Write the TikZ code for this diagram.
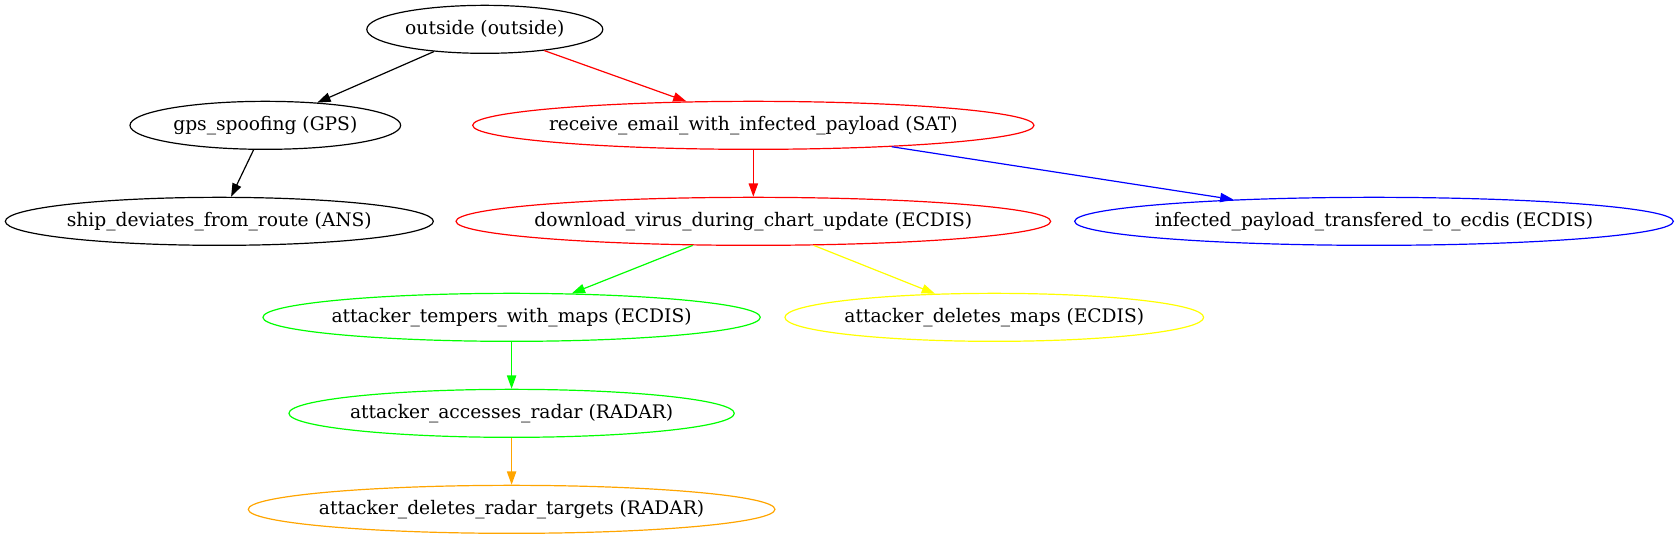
\documentclass[tikz,border=0pt]{standalone}
\usepackage{fontspec}
\setmainfont{DejaVu Serif}
\usepackage{xcolor}
\usetikzlibrary{arrows.meta, shapes.geometric}

\definecolor{gvgreen}{RGB}{0,255,0}
\definecolor{gvyellow}{RGB}{255,255,0}
\definecolor{gvorange}{RGB}{255,165,0}

\begin{document}
\begin{tikzpicture}[
        x=1pt, y=-1pt,
        state/.style = {ellipse, draw, line width=0.9pt, inner xsep=-20pt, inner ysep=0pt, minimum height=36pt, font=\fontsize{14}{17}\selectfont},
        edge/.style = {-{Triangle[length=10pt, width=7pt]}, line width=0.9pt}
    ]
    \useasboundingbox (0,0) rectangle (1258.5,404.25);

    \node[state, minimum width=177pt] (outside) at (363.6,22) {outside (outside)};
    \node[state, minimum width=203pt] (gps) at (199,94) {gps\_spoofing (GPS)};
    \node[state, red, text=black, minimum width=421pt] (email) at (565,94) {receive\_email\_with\_infected\_payload (SAT)};
    \node[state, minimum width=321pt] (ship) at (164.5,166) {ship\_deviates\_from\_route (ANS)};
    \node[state, red, text=black, minimum width=446pt] (virus) at (565,166) {download\_virus\_during\_chart\_update (ECDIS)};
    \node[state, blue, text=black, minimum width=449pt] (payload) at (1030.5,166) {infected\_payload\_transfered\_to\_ecdis (ECDIS)};
    \node[state, gvgreen, text=black, minimum width=373pt] (tempers) at (383.7,238) {attacker\_tempers\_with\_maps (ECDIS)};
    \node[state, gvyellow, text=black, minimum width=314pt] (delmaps) at (745.7,238) {attacker\_deletes\_maps (ECDIS)};
    \node[state, gvgreen, text=black, minimum width=334pt] (radar) at (383.7,310) {attacker\_accesses\_radar (RADAR)};
    \node[state, gvorange, text=black, minimum width=395pt] (targets) at (383.7,382) {attacker\_deletes\_radar\_targets (RADAR)};

    \draw[edge] (outside) -- (gps);
    \draw[edge, red] (outside) -- (email);
    \draw[edge] (gps) -- (ship);
    \draw[edge, red] (email) -- (virus);
    \draw[edge, blue] (email) -- (payload);
    \draw[edge, gvgreen] (virus) -- (tempers);
    \draw[edge, gvyellow] (virus) -- (delmaps);
    \draw[edge, gvgreen] (tempers) -- (radar);
    \draw[edge, gvorange] (radar) -- (targets);
\end{tikzpicture}
\end{document}
